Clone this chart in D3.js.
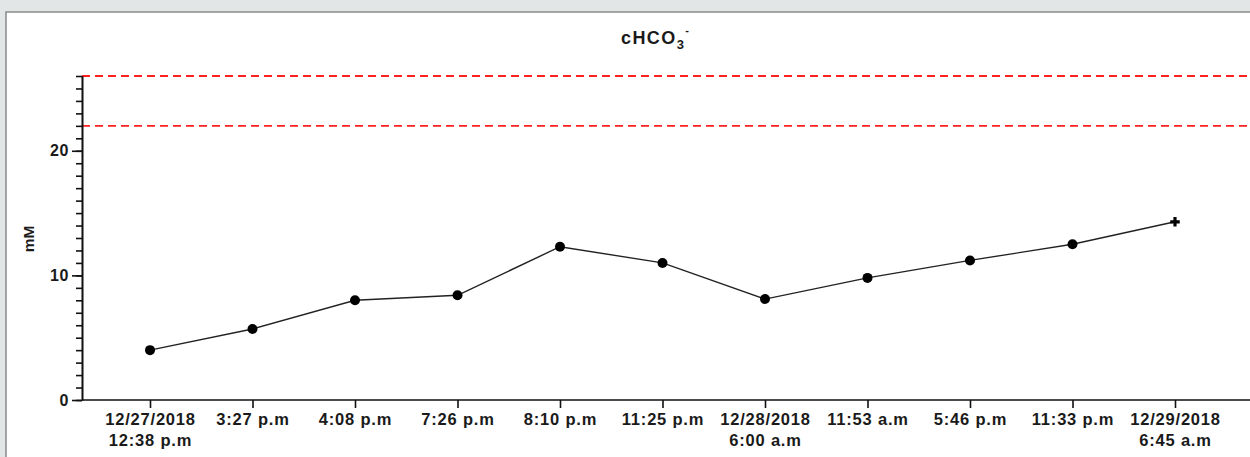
<!DOCTYPE html>
<html>
<head>
<meta charset="utf-8">
<script src="https://cdn.jsdelivr.net/npm/d3@7"></script>
<style>
    html, body { margin: 0; padding: 0; background: #e3e6e7; }
    svg { display: block; }
    text { font-family: "Liberation Sans", Arial, sans-serif; font-weight: bold; fill: #1a1a1a; }
    .panel { fill: #fff; stroke: #8a8a8a; stroke-width: 1.5; }
    .axis path, .axis line { stroke: #111; stroke-width: 1.6; }
    .chart-line { fill: none; stroke: #222; stroke-width: 1.4; }
    .ref-line { stroke: #ff2020; stroke-width: 1.9; stroke-dasharray: 8 5; }
</style>
</head>
<body>
<div id="chart"></div>
<script>
const categories = [
    '12/27/2018\n12:38 p.m', '3:27 p.m', '4:08 p.m', '7:26 p.m', '8:10 p.m', '11:25 p.m',
    '12/28/2018\n6:00 a.m', '11:53 a.m', '5:46 p.m', '11:33 p.m', '12/29/2018\n6:45 a.m'
];
const values = [4.0, 5.7, 8.0, 8.4, 12.3, 11.0, 8.1, 9.8, 11.2, 12.5, 14.3];
const refLines = [22, 26];
const yMajorTicks = [0, 10, 20];
const yMinorTicks = d3.range(0, 27);

const render = () => {
    const outerWidth = 1250;
    const outerHeight = 457;
    const margin = { top: 76, left: 82, bottom: 57, right: 0 };
    const innerBottom = outerHeight - margin.bottom;

    const svg = d3.select('#chart')
        .append('svg')
            .attr('width', outerWidth)
            .attr('height', outerHeight);

    svg.append('rect')
        .classed('panel', true)
        .attr('x', 6)
        .attr('y', 12)
        .attr('width', outerWidth + 10)
        .attr('height', outerHeight);

    const xScale = d3.scalePoint()
        .domain(categories)
        .range([150, 1175]);

    const yScale = d3.scaleLinear()
        .domain([0, 26])
        .range([innerBottom, margin.top]);

    // title
    const title = svg.append('text')
        .attr('x', 621)
        .attr('y', 44)
        .style('font-size', '18px')
        .style('letter-spacing', '1.4px');
    title.append('tspan').text('cHCO');
    title.append('tspan').text('3').attr('dy', 5).style('font-size', '13px');
    title.append('tspan').text('-').attr('dy', -15).style('font-size', '11px');

    // y label
    svg.append('text')
        .attr('transform', `translate(34, 239) rotate(-90)`)
        .attr('text-anchor', 'middle')
        .style('font-size', '15.5px')
        .text('mM');

    // reference lines
    svg.selectAll('.ref-line')
        .data(refLines)
        .join('line')
            .classed('ref-line', true)
            .attr('x1', margin.left)
            .attr('x2', outerWidth)
            .attr('y1', d => yScale(d))
            .attr('y2', d => yScale(d));

    // y axis minor ticks
    svg.append('g')
        .classed('axis', true)
        .attr('transform', `translate(${margin.left},0)`)
        .call(d3.axisLeft(yScale).tickValues(yMinorTicks).tickSize(6).tickSizeOuter(0).tickFormat(''));

    // y axis major ticks
    const yAxis = svg.append('g')
        .classed('axis', true)
        .attr('transform', `translate(${margin.left},0)`)
        .call(d3.axisLeft(yScale).tickValues(yMajorTicks).tickSize(10).tickSizeOuter(0).tickPadding(3));
    yAxis.selectAll('text')
        .style('font-size', '16px')
        .style('letter-spacing', '0.6px');

    // x axis
    svg.append('line')
        .attr('x1', margin.left)
        .attr('x2', outerWidth)
        .attr('y1', innerBottom)
        .attr('y2', innerBottom)
        .style('stroke', '#111')
        .style('stroke-width', 1.6);

    const xAxis = svg.append('g')
        .classed('axis', true)
        .attr('transform', `translate(0,${innerBottom})`)
        .call(d3.axisBottom(xScale).tickSize(8).tickFormat(''));
    xAxis.select('.domain').remove();

    xAxis.selectAll('.tick')
        .append('text')
            .attr('text-anchor', 'middle')
            .style('font-size', '16.5px')
            .style('letter-spacing', '0.8px')
            .selectAll('tspan')
            .data(d => d.split('\n'))
            .join('tspan')
                .attr('x', 0)
                .attr('y', (d, i) => 25 + i * 21)
                .text(d => d);

    // line
    const lineGenerator = d3.line()
        .x((d, i) => xScale(categories[i]))
        .y(d => yScale(d));

    svg.append('path')
        .classed('chart-line', true)
        .attr('d', lineGenerator(values));

    const last = values.length - 1;
    svg.selectAll('.point')
        .data(values.slice(0, last))
        .join('circle')
            .classed('point', true)
            .attr('cx', (d, i) => xScale(categories[i]))
            .attr('cy', d => yScale(d))
            .attr('r', 5)
            .attr('fill', '#000');

    svg.append('path')
        .attr('d', d3.symbol().type(d3.symbolCross).size(50)())
        .attr('transform', `translate(${xScale(categories[last])},${yScale(values[last])})`)
        .attr('fill', '#000');
};

window.addEventListener('load', render);
</script>
</body>
</html>
